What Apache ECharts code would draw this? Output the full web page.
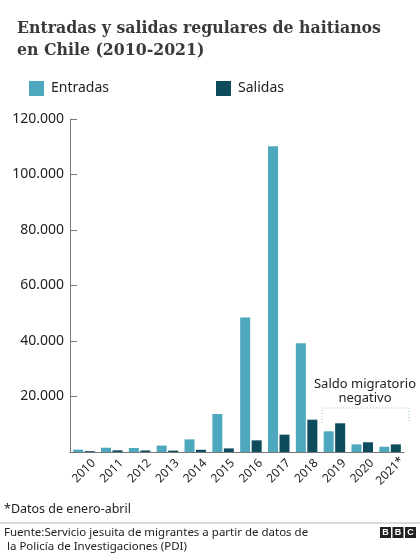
<!DOCTYPE html>
<html>
<head>
<meta charset="utf-8">
<script src="https://cdn.jsdelivr.net/npm/echarts@6/dist/echarts.min.js"></script>
<style>
  html, body { margin: 0; padding: 0; background: #fff; }
  #chart { width: 420px; height: 555px; }
</style>
</head>
<body>
<div id="chart"></div>
<script>
// datos
const years = ['2010','2011','2012','2013','2014','2015','2016','2017','2018','2019','2020','2021*'];
const entradas = [850, 1550, 1450, 2300, 4550, 13700, 48500, 110200, 39200, 7450, 2750, 1900];
const salidas  = [300, 600, 550, 500, 800, 1300, 4200, 6250, 11650, 10350, 3500, 2750];

const colEntradas = '#4ea8bd';
const colSalidas = '#0e4b5d';

function fmtMiles(v){
    if (v == 0) return '';
    return String(v).replace(/\B(?=(\d{3})+(?!\d))/g, '.');
}

let myChart = echarts.init(document.getElementById('chart'));

option = {
    animation: false,
    title: {
        left: 12,
        top: 12,
        text: 'Entradas y salidas regulares de haitianos\nen Chile (2010-2021)',
        textStyle: {
            fontFamily: '"DejaVu Serif Condensed", "DejaVu Serif"',
            fontWeight: 'bold',
            fontSize: 17.5,
            lineHeight: 22,
            color: '#3a3a3a'
        }
    },
    legend: {
        left: 24,
        top: 76,
        itemWidth: 15,
        itemHeight: 15,
        itemGap: 107,
        icon: 'rect',
        textStyle: { fontFamily: 'Noto Sans', fontSize: 14, color: '#222', padding: [0, 0, 0, 2] },
        data: ['Entradas', 'Salidas']
    },
    grid: {
        left: 70,
        right: 16,
        top: 119,
        bottom: 103
    },
    xAxis: {
        type: 'category',
        data: years,
        axisLine: { lineStyle: { color: '#777', width: 1 } },
        axisTick: { show: false },
        axisLabel: {
            rotate: 45,
            align: 'center',
            verticalAlign: 'middle',
            margin: 19,
            fontFamily: 'Noto Sans',
            fontSize: 12,
            color: '#222'
        }
    },
    yAxis: {
        type: 'value',
        min: 0,
        max: 120000,
        interval: 20000,
        splitLine: { show: false },
        axisLine: { show: true, lineStyle: { color: '#777', width: 1 } },
        axisTick: { show: true, inside: true, length: 7, lineStyle: { color: '#777' } },
        axisLabel: {
            margin: 6,
            fontFamily: 'Noto Sans',
            fontSize: 14,
            color: '#222',
            formatter: fmtMiles
        }
    },
    series: [
        {
            name: 'Entradas',
            type: 'bar',
            barWidth: 10,
            barGap: '15%',
            itemStyle: { color: colEntradas },
            data: entradas
        },
        {
            name: 'Salidas',
            type: 'bar',
            barWidth: 10,
            itemStyle: { color: colSalidas },
            data: salidas
        }
    ],
    graphic: [
        {
            type: 'text',
            style: {
                x: 365, y: 377,
                text: 'Saldo migratorio\nnegativo',
                textAlign: 'center',
                font: '13px "Noto Sans"',
                lineHeight: 14,
                fill: '#222'
            }
        },
        {
            type: 'polyline',
            shape: { points: [[322, 423], [322, 408], [409, 408], [409, 423]] },
            style: { stroke: '#8fbccb', lineWidth: 1, lineDash: [1, 2], fill: null }
        },
        {
            type: 'text',
            style: {
                x: 4, y: 503,
                text: '*Datos de enero-abril',
                font: '12.5px "Noto Sans"',
                fill: '#222'
            }
        },
        {
            type: 'line',
            shape: { x1: 0, y1: 523, x2: 420, y2: 523 },
            style: { stroke: '#b5b5b5', lineWidth: 1 }
        },
        {
            type: 'text',
            style: {
                x: 4, y: 526,
                text: 'Fuente:Servicio jesuita de migrantes a partir de datos de\n la Policía de Investigaciones (PDI)',
                font: '11.5px "Noto Sans"',
                lineHeight: 14,
                fill: '#222'
            }
        },
        { type: 'rect', shape: { x: 380, y: 527, width: 11, height: 11 }, style: { fill: '#222' } },
        { type: 'rect', shape: { x: 392.5, y: 527, width: 11, height: 11 }, style: { fill: '#222' } },
        { type: 'rect', shape: { x: 405, y: 527, width: 11, height: 11 }, style: { fill: '#222' } },
        { type: 'text', style: { x: 385.5, y: 528, text: 'B', textAlign: 'center', font: 'bold 9px "Liberation Sans"', fill: '#fff' } },
        { type: 'text', style: { x: 398, y: 528, text: 'B', textAlign: 'center', font: 'bold 9px "Liberation Sans"', fill: '#fff' } },
        { type: 'text', style: { x: 410.5, y: 528, text: 'C', textAlign: 'center', font: 'bold 9px "Liberation Sans"', fill: '#fff' } }
    ]
};

myChart.setOption(option);
</script>
</body>
</html>
